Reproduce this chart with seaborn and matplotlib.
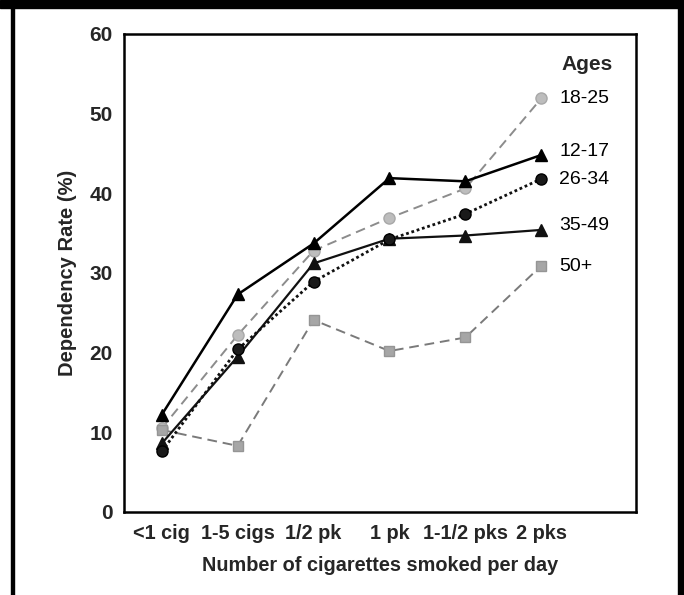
import numpy as np
import pandas as pd
import matplotlib
matplotlib.use("Agg")
import matplotlib.pyplot as plt
import seaborn as sns
from matplotlib.patches import Rectangle

# Values
categories = ['<1 cig', '1-5 cigs', '1/2 pk', '1 pk', '1-1/2 pks', '2 pks']
ages_12_17 = [12.2, 27.3, 33.7, 41.9, 41.5, 44.8]
ages_18_25 = [10.5, 22.2, 32.8, 36.9, 40.6, 51.9]
ages_26_34 = [7.6, 20.4, 28.9, 34.2, 37.4, 41.8]
ages_35_49 = [8.6, 19.5, 31.2, 34.3, 34.7, 35.4]
ages_50 = [10.3, 8.3, 24.1, 20.2, 21.9, 30.9]
y_ticks = [0, 10, 20, 30, 40, 50, 60]

series = {
    '12-17': ages_12_17,
    '18-25': ages_18_25,
    '26-34': ages_26_34,
    '35-49': ages_35_49,
    '50+': ages_50,
}

styles = {
    '18-25': dict(color='#8c8c8c', linestyle=(0, (5, 3)), lw=1.4, marker='o',
                  mfc='#bdbdbd', mec='#a8a8a8', ms=8),
    '50+': dict(color='#7a7a7a', linestyle=(0, (5, 3)), lw=1.4, marker='s',
                mfc='#a6a6a6', mec='#959595', ms=7.5),
    '26-34': dict(color='#111111', linestyle=(0, (1, 1)), lw=2.0, marker='o',
                  mfc='#1a1a1a', mec='#000000', ms=8),
    '35-49': dict(color='#111111', linestyle='-', lw=1.6, marker='^',
                  mfc='#111111', mec='#111111', ms=8),
    '12-17': dict(color='#000000', linestyle='-', lw=1.8, marker='^',
                  mfc='#000000', mec='#000000', ms=8),
}

label_y = {'18-25': 51.9, '12-17': 45.2, '26-34': 41.7, '35-49': 35.9, '50+': 30.8}

df = pd.DataFrame({'pos': np.arange(len(categories))})
for name, vals in series.items():
    df[name] = vals

sns.set_style('white')
plt.rcParams['font.family'] = ['Liberation Sans', 'DejaVu Sans']

fig = plt.figure(figsize=(6.84, 5.95), dpi=100)
ax = fig.add_axes([0.181, 0.1395, 0.749, 0.8035])

for name in ['18-25', '50+', '35-49', '26-34', '12-17']:
    st = styles[name]
    sns.lineplot(data=df, x='pos', y=name, ax=ax, color=st['color'],
                 linestyle=st['linestyle'], linewidth=st['lw'], marker=st['marker'],
                 markerfacecolor=st['mfc'], markeredgecolor=st['mec'],
                 markersize=st['ms'], markeredgewidth=1.0)

ax.set_xlim(-0.5, 6.25)
ax.set_ylim(0, 60)
ax.set_xticks(df['pos'])
ax.set_xticklabels(categories, fontsize=14.3, fontweight='bold')
ax.set_yticks(y_ticks)
ax.set_yticklabels([str(t) for t in y_ticks], fontsize=15, fontweight='bold')
ax.tick_params(axis='both', direction='in', length=7, width=1.5, color='black')
ax.tick_params(axis='y', pad=8)
ax.tick_params(axis='x', pad=9)
for sp in ax.spines.values():
    sp.set_color('black')
    sp.set_linewidth(1.8)

ax.set_xlabel('Number of cigarettes smoked per day', fontsize=14.3,
              fontweight='bold', labelpad=9)
ax.set_ylabel('Dependency Rate (%)', fontsize=14.5, fontweight='bold', labelpad=9)

for name, yv in label_y.items():
    ax.text(5.24, yv, name, fontsize=14, va='center', ha='left', color='black')
ax.text(5.27, 56.2, 'Ages', fontsize=15, fontweight='bold', va='center', ha='left')

# black frame around the picture
fig.patches.append(Rectangle((0, 1 - 8 / 595), 1, 8 / 595, transform=fig.transFigure,
                             color='black', zorder=10))
fig.patches.append(Rectangle((11 / 684, 0), 3 / 684, 1, transform=fig.transFigure,
                             color='black', zorder=10))
fig.patches.append(Rectangle((678 / 684, 0), 6 / 684, 1, transform=fig.transFigure,
                             color='black', zorder=10))

fig.savefig('out.png', dpi=100)
plt.close(fig)
